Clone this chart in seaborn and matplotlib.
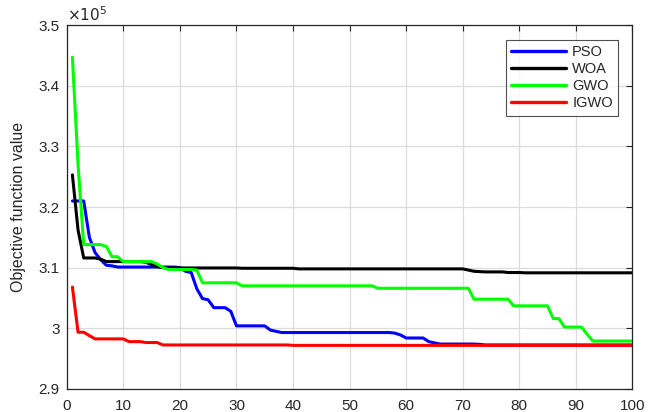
import numpy as np
import pandas as pd
import matplotlib
matplotlib.use("Agg")
import matplotlib.pyplot as plt
from matplotlib.ticker import FuncFormatter, MultipleLocator
import seaborn as sns

# Best objective value per iteration (units of 1e5)
iterations = list(range(1, 101))

pso = [3.210, 3.210, 3.210, 3.150, 3.125, 3.113, 3.104, 3.103, 3.101, 3.101,
       3.101, 3.101, 3.101, 3.101, 3.101, 3.101, 3.101, 3.101, 3.101, 3.100,
       3.094, 3.092, 3.065, 3.049, 3.047, 3.034, 3.034, 3.034, 3.028, 3.004,
       3.004, 3.004, 3.004, 3.004, 3.004, 2.997, 2.995, 2.993, 2.993, 2.993,
       2.993, 2.993, 2.993, 2.993, 2.993, 2.993, 2.993, 2.993, 2.993, 2.993,
       2.993, 2.993, 2.993, 2.993, 2.993, 2.993, 2.993, 2.992, 2.989, 2.984,
       2.984, 2.984, 2.984, 2.978, 2.976, 2.974, 2.974, 2.974, 2.974, 2.974,
       2.974, 2.974, 2.9735, 2.9725, 2.9725, 2.9725, 2.9725, 2.9725, 2.9725, 2.9725,
       2.9725, 2.9725, 2.9725, 2.9725, 2.9725, 2.9725, 2.9725, 2.9725, 2.9725, 2.9725,
       2.9725, 2.9725, 2.9725, 2.9725, 2.9725, 2.9725, 2.9725, 2.9725, 2.9725, 2.9725]

woa = [3.253, 3.162, 3.116, 3.116, 3.116, 3.114, 3.110, 3.110, 3.110, 3.110,
       3.110, 3.110, 3.110, 3.109, 3.105, 3.102, 3.100, 3.0995, 3.0995, 3.0995,
       3.0995, 3.0995, 3.0995, 3.0995, 3.0995, 3.0995, 3.0995, 3.0995, 3.0995, 3.0995,
       3.099, 3.099, 3.099, 3.099, 3.099, 3.099, 3.099, 3.099, 3.099, 3.099,
       3.098, 3.098, 3.098, 3.098, 3.098, 3.098, 3.098, 3.098, 3.098, 3.098,
       3.098, 3.098, 3.098, 3.098, 3.098, 3.098, 3.098, 3.098, 3.098, 3.098,
       3.098, 3.098, 3.098, 3.098, 3.098, 3.098, 3.098, 3.098, 3.098, 3.098,
       3.096, 3.094, 3.0935, 3.093, 3.093, 3.093, 3.093, 3.092, 3.092, 3.092,
       3.0915, 3.0915, 3.0915, 3.0915, 3.0915, 3.0915, 3.0915, 3.0915, 3.0915, 3.0915,
       3.0915, 3.0915, 3.0915, 3.0915, 3.0915, 3.0915, 3.0915, 3.0915, 3.0915, 3.0915]

gwo = [3.447, 3.270, 3.138, 3.138, 3.138, 3.138, 3.135, 3.118, 3.118, 3.110,
       3.110, 3.110, 3.110, 3.110, 3.110, 3.106, 3.100, 3.097, 3.097, 3.097,
       3.097, 3.097, 3.096, 3.075, 3.075, 3.075, 3.075, 3.075, 3.075, 3.075,
       3.070, 3.070, 3.070, 3.070, 3.070, 3.070, 3.070, 3.070, 3.070, 3.070,
       3.070, 3.070, 3.070, 3.070, 3.070, 3.070, 3.070, 3.070, 3.070, 3.070,
       3.070, 3.070, 3.070, 3.070, 3.066, 3.066, 3.066, 3.066, 3.066, 3.066,
       3.066, 3.066, 3.066, 3.066, 3.066, 3.066, 3.066, 3.066, 3.066, 3.066,
       3.066, 3.048, 3.048, 3.048, 3.048, 3.048, 3.048, 3.048, 3.037, 3.037,
       3.037, 3.037, 3.037, 3.037, 3.037, 3.016, 3.016, 3.002, 3.002, 3.002,
       3.002, 2.990, 2.979, 2.979, 2.979, 2.979, 2.979, 2.979, 2.979, 2.979]

igwo = [3.068, 2.9935, 2.9935, 2.988, 2.9825, 2.9825, 2.9825, 2.9825, 2.9825, 2.9825,
        2.978, 2.978, 2.978, 2.9765, 2.9765, 2.9765, 2.9725, 2.9725, 2.9725, 2.9725,
        2.9725, 2.9725, 2.9725, 2.9725, 2.9725, 2.9725, 2.9725, 2.9725, 2.9725, 2.9725,
        2.9725, 2.9725, 2.9725, 2.9725, 2.9725, 2.9725, 2.9725, 2.9725, 2.9725, 2.9718,
        2.9718, 2.9718, 2.9718, 2.9718, 2.9718, 2.9718, 2.9718, 2.9718, 2.9718, 2.9718,
        2.9718, 2.9718, 2.9718, 2.9718, 2.9718, 2.9718, 2.9718, 2.9718, 2.9718, 2.9718,
        2.9718, 2.9718, 2.9718, 2.9718, 2.9718, 2.9718, 2.9718, 2.9718, 2.9718, 2.9718,
        2.9718, 2.9718, 2.9718, 2.9718, 2.9718, 2.9718, 2.9718, 2.9718, 2.9718, 2.9718,
        2.9718, 2.9718, 2.9718, 2.9718, 2.9718, 2.9718, 2.9718, 2.9718, 2.9718, 2.9718,
        2.9718, 2.9718, 2.9718, 2.9718, 2.9718, 2.9718, 2.9718, 2.9718, 2.9718, 2.9718]

algorithms = ["PSO", "WOA", "GWO", "IGWO"]
colors = {"PSO": "#0000ff", "WOA": "#000000", "GWO": "#00ff00", "IGWO": "#ff0000"}
SCALE = 1e5

frames = []
for name, vals in zip(algorithms, [pso, woa, gwo, igwo]):
    frames.append(pd.DataFrame({"Iteration": iterations,
                                "Value": np.array(vals) * SCALE,
                                "Algorithm": name}))
df = pd.concat(frames, ignore_index=True)

sns.set_theme(style="white")
plt.rcParams["font.family"] = ["Liberation Sans", "DejaVu Sans"]
ink = "#262626"

fig = plt.figure(figsize=(6.48, 4.12), dpi=100)
ax = fig.add_axes([0.103, 0.056, 0.873, 0.883])

sns.lineplot(data=df, x="Iteration", y="Value", hue="Algorithm",
             hue_order=algorithms, palette=colors, linewidth=2.2,
             ax=ax, legend=True)

ax.set_xlim(0, 100)
ax.set_ylim(2.9 * SCALE, 3.5 * SCALE)
ax.xaxis.set_major_locator(MultipleLocator(10))
ax.yaxis.set_major_locator(MultipleLocator(0.1 * SCALE))
ax.yaxis.set_major_formatter(FuncFormatter(lambda v, p: f"{v / SCALE:g}"))

ax.grid(True, color="#dcdcdc", linewidth=0.9)
ax.set_axisbelow(True)
for s in ax.spines.values():
    s.set_visible(True)
    s.set_color(ink)
    s.set_linewidth(0.9)

ax.tick_params(axis="both", which="major", direction="in", length=4,
               width=0.8, color=ink, labelcolor=ink, labelsize=11,
               top=True, right=True)
ax.tick_params(axis="x", pad=7)
ax.tick_params(axis="y", pad=5)

ax.set_xlabel("")
ax.set_ylabel("Objective function value", fontsize=11.5, color=ink, labelpad=9)

ax.text(0.0, 1.004, r"$\times10^{5}$", transform=ax.transAxes,
        ha="left", va="bottom", fontsize=11, color=ink)

handles, labels = ax.get_legend_handles_labels()
leg = ax.legend(handles, labels, loc="upper right", fontsize=10.5,
                frameon=True, fancybox=False, handlelength=3.8,
                handletextpad=0.4, labelspacing=0.22, borderpad=0.35,
                borderaxespad=1.0)
leg.get_frame().set_edgecolor(ink)
leg.get_frame().set_linewidth(0.8)
for line in leg.get_lines():
    line.set_linewidth(2.4)

fig.savefig("out.png", dpi=100)
